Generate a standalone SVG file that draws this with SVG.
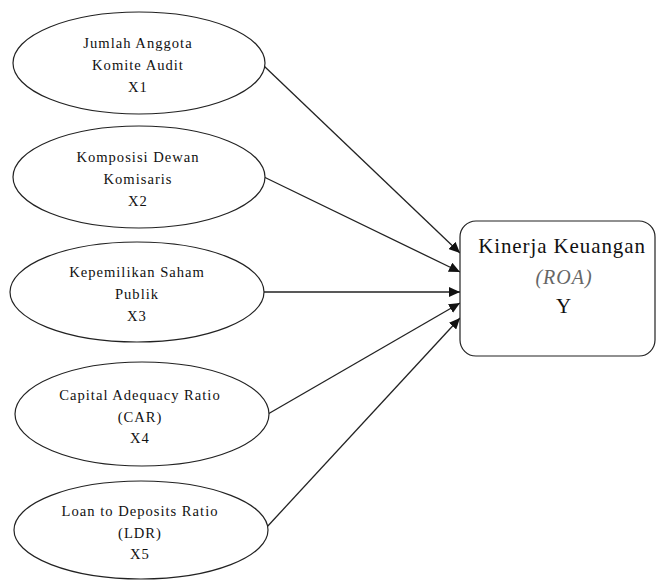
<svg xmlns="http://www.w3.org/2000/svg" width="656" height="581" viewBox="0 0 656 581">
<style>
.node{fill:#fff;stroke:#222;stroke-width:1.2}
.t{font-family:"Liberation Serif",serif;font-size:14.6px;letter-spacing:1px;fill:#111;text-anchor:middle}
.bt{font-family:"Liberation Serif",serif;font-size:21px;letter-spacing:0.9px;fill:#111;text-anchor:middle}
.it{font-family:"Liberation Serif",serif;font-size:20px;font-style:italic;letter-spacing:1px;fill:#666;text-anchor:middle}
.c{stroke:#222;stroke-width:1.3;fill:none;marker-end:url(#ah)}
</style>
<defs>
<marker id="ah" markerUnits="userSpaceOnUse" markerWidth="12" markerHeight="10" refX="11" refY="5" orient="auto">
<path d="M0,0 L11,5 L0,10 Z" fill="#111"/>
</marker>
</defs>
<rect width="656" height="581" fill="#fff"/>
<g id="connectors">
<line class="c" x1="264" y1="66" x2="460" y2="253"/>
<line class="c" x1="264" y1="177" x2="460" y2="272"/>
<line class="c" x1="264" y1="292" x2="460" y2="292"/>
<line class="c" x1="268" y1="414" x2="460" y2="303"/>
<line class="c" x1="266" y1="528" x2="460" y2="318"/>
</g>
<g id="x1">
<ellipse class="node" cx="139" cy="63" rx="126" ry="51"/>
<text class="t" x="138" y="48">Jumlah Anggota</text>
<text class="t" x="138" y="70">Komite Audit</text>
<text class="t" x="138" y="92">X1</text>
</g>
<g id="x2">
<ellipse class="node" cx="139" cy="177" rx="126" ry="51"/>
<text class="t" x="138" y="162">Komposisi Dewan</text>
<text class="t" x="138" y="184">Komisaris</text>
<text class="t" x="138" y="206">X2</text>
</g>
<g id="x3">
<ellipse class="node" cx="137" cy="292" rx="127" ry="50"/>
<text class="t" x="137" y="277">Kepemilikan Saham</text>
<text class="t" x="137" y="299">Publik</text>
<text class="t" x="137" y="321">X3</text>
</g>
<g id="x4">
<ellipse class="node" cx="142" cy="414" rx="127" ry="52"/>
<text class="t" x="140" y="400">Capital Adequacy Ratio</text>
<text class="t" x="140" y="422">(CAR)</text>
<text class="t" x="140" y="443">X4</text>
</g>
<g id="x5">
<ellipse class="node" cx="141" cy="530" rx="127" ry="49"/>
<text class="t" x="140" y="516">Loan to Deposits Ratio</text>
<text class="t" x="140" y="538">(LDR)</text>
<text class="t" x="140" y="559">X5</text>
</g>
<g id="y">
<rect class="node" x="460" y="221" width="195" height="135" rx="16"/>
<text class="bt" x="562" y="253">Kinerja Keuangan</text>
<text class="it" x="564" y="284">(ROA)</text>
<text class="bt" x="564" y="313">Y</text>
</g>
</svg>
